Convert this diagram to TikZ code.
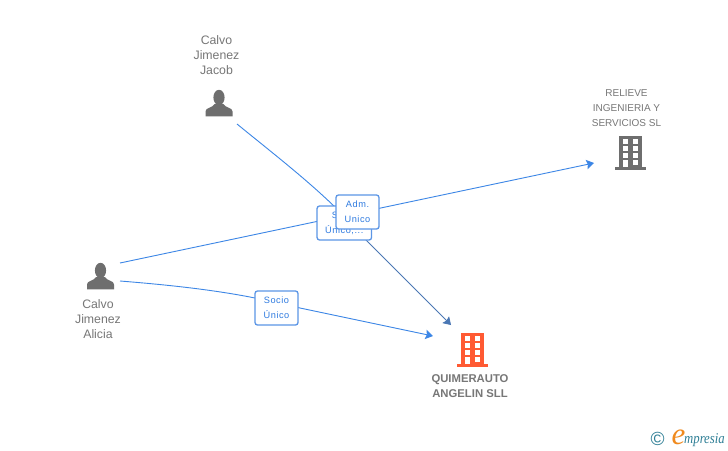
\documentclass[tikz,border=0pt]{standalone}
\usepackage{fontspec}
\setmainfont{Liberation Sans}
\newfontfamily\serifit{Liberation Serif}
\usetikzlibrary{arrows.meta}
\definecolor{linkblue}{HTML}{3C86E6}
\definecolor{linkdark}{HTML}{4A77B4}
\definecolor{boxblue}{HTML}{5C96E6}
\definecolor{labelblue}{HTML}{2F7BE0}
\definecolor{icongray}{HTML}{6E6E6E}
\definecolor{textgray}{HTML}{777777}
\definecolor{orangeicon}{HTML}{FF5A33}
\definecolor{logoteal}{HTML}{2F7F96}
\definecolor{logoorange}{HTML}{F08A1E}
\tikzset{
  link/.style={draw=linkblue,line width=0.9pt},
  linkend/.style={-{Stealth[length=7.5pt,width=9.5pt,inset=1.2pt]}},
  edgebox/.style={draw=boxblue,line width=1.3pt,fill=white,rounded corners=2.5pt,
    minimum width=#1,minimum height=34pt,inner sep=0pt,text=labelblue,
    font=\fontsize{9.2}{15}\selectfont\addfontfeature{LetterSpace=6},align=center},
  caption/.style={text=textgray,font=\fontsize{12.3}{15}\selectfont,align=center,inner sep=0pt},
  captionsmall/.style={text=textgray,font=\fontsize{10}{15}\selectfont,align=center,inner sep=0pt},
  captionbold/.style={text=textgray,font=\fontsize{11.3}{15}\selectfont\bfseries,align=center,inner sep=0pt},
  person/.pic={
    \fill[icongray] (-13.5,13.3) -- (-13.5,8.5) .. controls (-13.5,4.5) and (-6.5,5) .. (-4.5,1)
      -- (4.5,1) .. controls (6.5,5) and (13.5,4.5) .. (13.5,8.5) -- (13.5,13.3) -- cycle;
    \fill[icongray] (0,-5.5) ellipse (5.6 and 7.7);
  },
  building/.pic={
    \fill[#1] (-15.8,31) rectangle (15.8,34);
    \fill[#1] (-11.3,0) rectangle (11.3,32);
    \foreach \yy in {3,10,17}{
      \fill[white] (-7.3,\yy) rectangle (-2.3,\yy+4.6);
      \fill[white] (2.2,\yy) rectangle (7.2,\yy+4.6);
    }
    \fill[white] (-7.3,24) rectangle (-2.3,31);
    \fill[white] (2.2,24) rectangle (7.2,28.6);
  }
}
\begin{document}
\begin{tikzpicture}[x=1pt,y=-1pt]
\useasboundingbox (0,0) rectangle (728,450);
\fill[white] (0,0) rectangle (728,450);

% icons
\pic at (219,103) {person};
\pic at (100.5,276) {person};
\pic at (630.5,136) {building=icongray};
\pic at (472.5,333) {building=orangeicon};

% captions
\node[caption] (jacobtext) at (216.5,55) {Calvo\\Jimenez\\Jacob};
\node[caption] (aliciatext) at (98,319) {Calvo\\Jimenez\\Alicia};
\node[captionsmall] (relievetext) at (626.5,108) {RELIEVE\\INGENIERIA Y\\SERVICIOS SL};
\node[captionbold] (quimtext) at (470,386) {QUIMERAUTO\\ANGELIN SLL};

% connector ends
\coordinate (jacob) at (237,124);
\coordinate (aliciaA) at (120,263);
\coordinate (aliciaB) at (120,281);
\coordinate (relieve) at (594,163);
\coordinate (quimA) at (451,325);
\coordinate (quimB) at (433,336);
\coordinate (jacobmid) at (365,239);

% connectors
\draw[link] (jacob) .. controls (275,155) and (310,182) .. (340,212) -- (jacobmid);
\draw[draw=linkdark,line width=0.75pt,linkend] (jacobmid) -- (quimA);
\draw[link,linkend] (aliciaA) -- (relieve);
\draw[link,linkend] (aliciaB) .. controls (170,285) and (215,290) .. (255,298) -- (300,308) -- (quimB);

% edge labels
\node[edgebox=54.5pt] (socioA) at (344.3,223) {S\phantom{ocio}\\Único,...};
\node[edgebox=43pt] (adm) at (357.5,212) {Adm.\\Unico};
\node[edgebox=43pt] (socioB) at (276.5,308) {Socio\\Único};

% logo
\node[inner sep=0pt,text=logoteal,font=\fontsize{19}{19}\selectfont] (copy) at (657.5,439) {©};
\node[inner sep=0pt,anchor=base west,text=logoorange,font=\fontsize{31}{31}\serifit\itshape] (logoe) at (671.5,444) {e};
\node[inner sep=0pt,anchor=base west,text=logoteal,xscale=.85,transform shape,font=\fontsize{15}{15}\serifit\itshape] (logotext) at (684,443) {mpresia};
\end{tikzpicture}
\end{document}
